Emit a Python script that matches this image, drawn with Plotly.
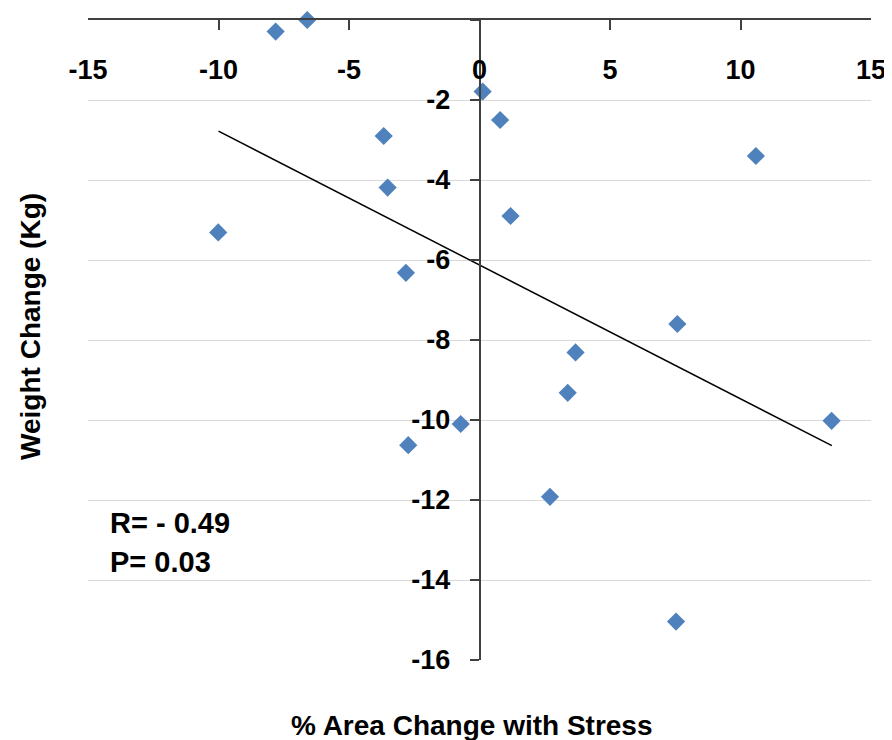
import plotly.graph_objects as go

# Data
area_change = [-7.81, -6.60, 0.12, 0.79, -3.67, 10.59, -3.52, 1.19, -10.01,
               -2.82, 7.58, 3.68, 3.38, 13.49, -0.72, -2.73, 2.70, 7.53]
weight_change = [-0.29, 0.0, -1.79, -2.5, -2.9, -3.4, -4.19, -4.9, -5.31,
                 -6.32, -7.6, -8.31, -9.32, -10.02, -10.1, -10.63, -11.92, -15.04]

trend_x = [-10.0, 13.5]
trend_y = [-2.78, -10.64]

x_ticks = [-15, -10, -5, 0, 5, 10, 15]
y_ticks = [0, -2, -4, -6, -8, -10, -12, -14, -16]

FONT = "Liberation Sans, Arial, sans-serif"

fig = go.Figure()
fig.add_trace(go.Scatter(
    x=trend_x, y=trend_y, mode="lines",
    line=dict(color="black", width=1.5), hoverinfo="skip"))
fig.add_trace(go.Scatter(
    x=area_change, y=weight_change, mode="markers",
    marker=dict(symbol="diamond", size=14, color="#4F81BD",
                line=dict(width=0)), cliponaxis=False))

# The page body has an 8px margin, so the figure is sized/offset to compensate
fig.update_layout(
    width=884, height=732,
    margin=dict(l=80, r=21, t=12, b=80),
    paper_bgcolor="white", plot_bgcolor="white",
    showlegend=False,
    font=dict(family=FONT, color="black"),
    xaxis=dict(
        range=[-15, 15], tickvals=x_ticks, ticktext=[str(v) for v in x_ticks],
        side="top", showline=True, linecolor="#404040", linewidth=1.5,
        ticks="inside", ticklen=10, tickcolor="#404040", tickwidth=1.5,
        ticklabelposition="inside", ticklabeloverflow="allow",
        ticklabelstandoff=33, automargin=False,
        tickfont=dict(size=27, family=FONT, color="black", weight="bold"),
        showgrid=False, zeroline=False),
    yaxis=dict(
        range=[-16, 0], tickvals=y_ticks, ticktext=[str(v) for v in y_ticks],
        anchor="free", position=0.5, automargin=False,
        showline=True, linecolor="#404040", linewidth=1.5,
        ticks="outside", ticklen=9, tickcolor="#404040", tickwidth=1.5,
        ticklabelstandoff=14,
        tickfont=dict(size=27, family=FONT, color="black", weight="bold"),
        showgrid=True, gridcolor="#D9D9D9", gridwidth=1.2, zeroline=False),
    annotations=[
        dict(text="% Area Change with Stress", xref="paper", yref="paper",
             x=0.490, y=-0.1016, xanchor="center", yanchor="middle",
             showarrow=False,
             font=dict(size=28, family=FONT, color="black", weight="bold")),
        dict(text="Weight Change (Kg)", xref="paper", yref="paper",
             x=-0.0728, y=0.522, xanchor="center", yanchor="middle",
             textangle=-90, showarrow=False,
             font=dict(size=28, family=FONT, color="black", weight="bold")),
        dict(text="R= - 0.49", xref="paper", yref="paper",
             x=0.0255, y=0.214, xanchor="left", yanchor="middle",
             showarrow=False,
             font=dict(size=29, family=FONT, color="black", weight="bold")),
        dict(text="P= 0.03", xref="paper", yref="paper",
             x=0.0255, y=0.153, xanchor="left", yanchor="middle",
             showarrow=False,
             font=dict(size=29, family=FONT, color="black", weight="bold")),
    ],
)

fig.write_html("out.html")
